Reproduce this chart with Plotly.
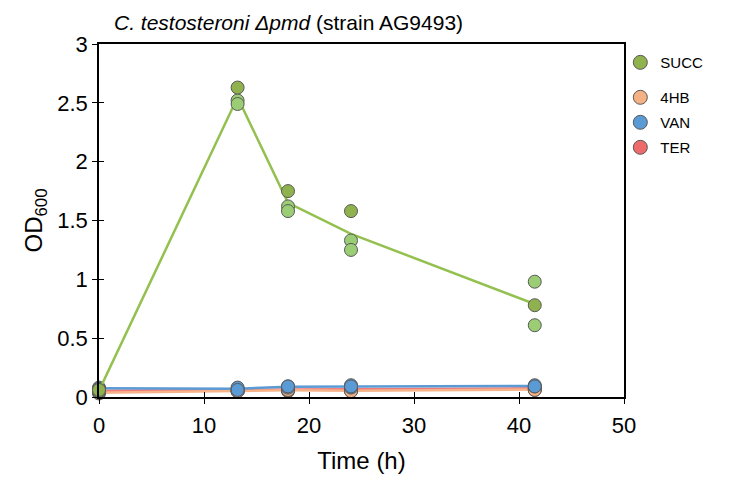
import numpy as np
import plotly.graph_objects as go

time_h = [0, 13.2, 18, 24, 41.5]

succ_r1 = [0.06, 2.63, 1.75, 1.58, 0.78]
succ_r2 = [0.05, 2.52, 1.62, 1.33, 0.98]
succ_r3 = [0.05, 2.49, 1.58, 1.25, 0.61]

hb_r1 = [0.03, 0.05, 0.05, 0.05, 0.06]
hb_r2 = [0.04, 0.05, 0.06, 0.06, 0.07]
hb_r3 = [0.04, 0.05, 0.06, 0.05, 0.06]

ter_r1 = [0.05, 0.05, 0.06, 0.07, 0.07]
ter_r2 = [0.05, 0.06, 0.07, 0.06, 0.07]
ter_r3 = [0.06, 0.06, 0.06, 0.07, 0.08]

van_r1 = [0.07, 0.07, 0.09, 0.10, 0.09]
van_r2 = [0.08, 0.08, 0.08, 0.08, 0.10]
van_r3 = [0.07, 0.06, 0.09, 0.09, 0.09]

x_ticks = [0, 10, 20, 30, 40, 50]
y_ticks = [0, 0.5, 1, 1.5, 2, 2.5, 3]
y_tick_text = ["0", "0.5", "1", "1.5", "2", "2.5", "3"]

FONT = "Liberation Sans, Arial, sans-serif"
OUTLINE = "#595959"

fig = go.Figure()

def add_series(name, reps, line_color, marker_colors, legend_color, rank, legend_id):
    mean = np.mean(np.array(reps), axis=0)
    fig.add_trace(go.Scatter(x=time_h, y=mean, mode="lines",
                             line=dict(color=line_color, width=2.5),
                             showlegend=False, hoverinfo="skip"))
    for r, c in zip(reps, marker_colors):
        fig.add_trace(go.Scatter(
            x=time_h, y=r, mode="markers", name=name,
            marker=dict(size=13, color=c, line=dict(color=OUTLINE, width=1)),
            showlegend=False))
    fig.add_trace(go.Scatter(
        x=[None], y=[None], mode="markers", name=name,
        marker=dict(size=14, color=legend_color, line=dict(color=OUTLINE, width=1)),
        legendrank=rank, legendgroup="grp_" + name, legend=legend_id,
        showlegend=True))

add_series("TER", [ter_r1, ter_r2, ter_r3], "#F07A7A",
           ["#EE6B6B", "#EE6B6B", "#EE6B6B"], "#EE6B6B", 4, "legend2")
add_series("4HB", [hb_r1, hb_r2, hb_r3], "#F6B48A",
           ["#C9895A", "#F4B183", "#F4B183"], "#F4B183", 2, "legend2")
add_series("VAN", [van_r1, van_r2, van_r3], "#5B9BD5",
           ["#5B9BD5", "#5B9BD5", "#5B9BD5"], "#5B9BD5", 3, "legend2")
add_series("SUCC", [succ_r2, succ_r3, succ_r1], "#93C04F",
           ["#9ACD74", "#9ACD74", "#8FB24E"], "#8FB24E", 1, "legend")

axis_common = dict(showline=True, linecolor="black", linewidth=1.5,
                   mirror=True, showgrid=False, zeroline=False, automargin=False,
                   ticks="outside", ticklen=5, tickwidth=1.3, tickcolor="black",
                   tickfont=dict(family=FONT, size=22, color="black"))

legend_common = dict(xanchor="left", yanchor="top",
                     font=dict(family=FONT, size=15, color="black"),
                     tracegroupgap=2.5, itemwidth=30, bgcolor="rgba(0,0,0,0)")

fig.update_layout(
    width=721, height=472,
    paper_bgcolor="white", plot_bgcolor="white",
    margin=dict(l=91, r=105, t=36, b=83),
    font=dict(family=FONT, color="black"),
    showlegend=True,
    legend=dict(x=0.993, y=0.994, **legend_common),
    legend2=dict(x=0.993, y=0.895, **legend_common),
    xaxis=dict(range=[0, 50], tickvals=x_ticks, ticklabelstandoff=3,
               title=dict(text="Time (h)", font=dict(family=FONT, size=24), standoff=15),
               **axis_common),
    yaxis=dict(range=[0, 3], tickvals=y_ticks, ticktext=y_tick_text,
               title=dict(text="OD<sub>600</sub>", font=dict(family=FONT, size=24), standoff=8),
               **axis_common),
    xaxis2=dict(range=[0, 50], tickvals=x_ticks, overlaying="x", anchor="y",
                side="bottom", ticks="inside", ticklen=5, tickwidth=1.3,
                tickcolor="black", showticklabels=False, showgrid=False,
                zeroline=False, showline=False),
    yaxis2=dict(range=[0, 3], tickvals=y_ticks, overlaying="y", anchor="x",
                side="left", ticks="inside", ticklen=5, tickwidth=1.3,
                tickcolor="black", showticklabels=False, showgrid=False,
                zeroline=False, showline=False),
    annotations=[dict(
        text="<i>C. testosteroni Δpmd</i> (strain AG9493)",
        xref="paper", yref="paper", x=0.025, y=1.0, xanchor="left", yanchor="bottom",
        yshift=8, showarrow=False, font=dict(family=FONT, size=21, color="black"))],
)
fig.add_trace(go.Scatter(x=[None], y=[None], xaxis="x2", yaxis="y2", showlegend=False))

fig.update_traces(cliponaxis=False, selector=dict(mode="markers"))

fig.write_html("out.html")
